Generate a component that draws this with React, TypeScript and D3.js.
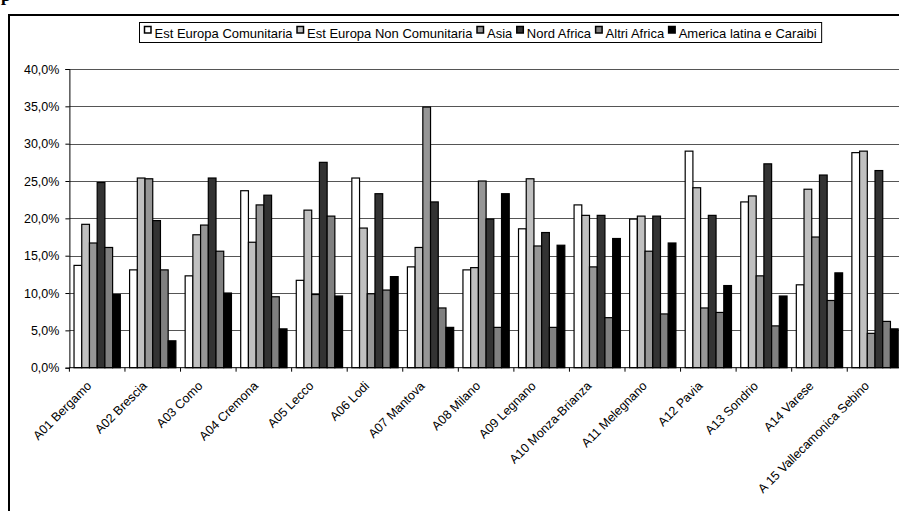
import React, { useEffect, useRef } from "react";
import * as d3 from "d3";

const categories = [
  "A01 Bergamo", "A02 Brescia", "A03 Como", "A04 Cremona", "A05 Lecco", "A06 Lodi",
  "A07 Mantova", "A08 Milano", "A09 Legnano", "A10 Monza-Brianza", "A11 Melegnano",
  "A12 Pavia", "A13 Sondrio", "A14  Varese", "A 15 Vallecamonica Sebino",
];
const seriesNames = [
  "Est Europa Comunitaria", "Est Europa Non Comunitaria", "Asia",
  "Nord Africa", "Altri Africa", "America latina e Caraibi",
];
const estEuropaComunitaria = [13.7, 13.1, 12.3, 23.7, 11.7, 25.4, 13.5, 13.1, 18.6, 21.8, 19.9, 29.0, 22.2, 11.1, 28.8];
const estEuropaNonComunitaria = [19.2, 25.4, 17.8, 16.8, 21.1, 18.7, 16.1, 13.4, 25.3, 20.4, 20.3, 24.1, 23.0, 23.9, 29.0];
const asia = [16.7, 25.3, 19.1, 21.8, 9.8, 9.9, 34.9, 25.0, 16.3, 13.5, 15.6, 8.0, 12.3, 17.5, 4.6];
const nordAfrica = [24.8, 19.7, 25.4, 23.1, 27.5, 23.3, 22.2, 19.9, 18.1, 20.4, 20.3, 20.4, 27.3, 25.8, 26.4];
const altriAfrica = [16.1, 13.1, 15.6, 9.5, 20.3, 10.4, 8.0, 5.4, 5.4, 6.7, 7.2, 7.4, 5.6, 9.0, 6.2];
const americaLatina = [9.8, 3.6, 10.0, 5.2, 9.6, 12.2, 5.4, 23.3, 16.4, 17.3, 16.7, 11.0, 9.6, 12.7, 5.2];
const yTicks = [0, 0.05, 0.1, 0.15, 0.2, 0.25, 0.3, 0.35, 0.4];
const colors = ["#FFFFFF", "#C0C0C0", "#969696", "#333333", "#808080", "#000000"];

const seriesValues = [estEuropaComunitaria, estEuropaNonComunitaria, asia, nordAfrica, altriAfrica, americaLatina];

export default function App() {
  const ref = useRef<SVGSVGElement>(null);
  useEffect(() => {
    const svg = d3.select(ref.current);
    svg.selectAll("*").remove();
    const font = "'Liberation Sans', Arial, sans-serif";

    // partial heading glyph (cut off at top edge, as in the reference)
    svg.append("text").attr("x", 1).attr("y", 1).attr("font-family", "'Liberation Serif', serif")
      .attr("font-size", 18).attr("font-weight", "bold").text("p");

    // outer frame
    svg.append("rect").attr("x", 9).attr("y", 15).attr("width", 1000).attr("height", 1000)
      .attr("fill", "none").attr("stroke", "#000").attr("stroke-width", 2);

    const left = 69.4, right = 902.8, top = 69, bottom = 367.7;
    const y = d3.scaleLinear().domain([0, 0.4]).range([bottom, top]);
    const x0 = d3.scaleBand().domain(categories).range([left, right]).paddingInner(0).paddingOuter(0);
    const step = x0.bandwidth();
    const gap = step * 0.1667;
    const x1 = d3.scaleBand().domain(seriesNames).range([gap / 2, step - gap / 2]);

    const locale = d3.formatLocale({ decimal: ",", thousands: ".", grouping: [3], currency: ["", "€"] });
    const fmt = locale.format(".1%");

    const g = svg.append("g");
    g.selectAll("line.grid").data(yTicks.slice(1)).join("line")
      .attr("x1", left).attr("x2", right)
      .attr("y1", (d) => Math.round(y(d)) + 0.5).attr("y2", (d) => Math.round(y(d)) + 0.5)
      .attr("stroke", "#555").attr("stroke-width", 1);

    categories.forEach((c, i) => {
      seriesNames.forEach((s, j) => {
        const v = seriesValues[j][i] / 100;
        g.append("rect")
          .attr("x", (x0(c) as number) + (x1(s) as number))
          .attr("y", y(v))
          .attr("width", x1.bandwidth())
          .attr("height", bottom - y(v))
          .attr("fill", colors[j])
          .attr("stroke", "#000").attr("stroke-width", 1.2);
      });
    });

    const ya = d3.axisLeft(y).tickValues(yTicks).tickSize(4).tickFormat((d) => fmt(d as number));
    const yg = svg.append("g").attr("transform", `translate(${left},0)`).call(ya);
    yg.select(".domain").attr("stroke", "#000");
    yg.selectAll("text").attr("font-family", font).attr("font-size", 12.5).attr("fill", "#000").attr("x", -10);

    const xg = svg.append("g").attr("transform", `translate(0,${bottom})`);
    xg.append("line").attr("x1", left).attr("x2", right).attr("y1", 0).attr("y2", 0).attr("stroke", "#000");
    const tickX = categories.map((c) => x0(c) as number).concat([right]);
    xg.selectAll("line.t").data(tickX).join("line").attr("class", "t")
      .attr("x1", (d) => d).attr("x2", (d) => d).attr("y1", 0).attr("y2", 4).attr("stroke", "#000");
    xg.selectAll("text").data(categories).join("text")
      .attr("font-family", font).attr("font-size", 12.5).attr("text-anchor", "end")
      .attr("transform", (c) => `translate(${(x0(c) as number) + step / 2 - 5},${19}) rotate(-45)`)
      .text((c) => c);

    const lg = svg.append("g");
    const box = lg.append("rect").attr("fill", "#fff").attr("stroke", "#000").attr("stroke-width", 1);
    let cx = 144.5;
    const ly = 33;
    let end = cx;
    seriesNames.forEach((s, j) => {
      lg.append("rect").attr("x", cx).attr("y", ly - 6.5).attr("width", 6.5).attr("height", 6.5)
        .attr("fill", colors[j]).attr("stroke", "#000").attr("stroke-width", 1.5);
      const t = lg.append("text").attr("x", cx + 10).attr("y", ly + 4.5).attr("font-family", font)
        .attr("font-size", 13).text(s);
      const w = (t.node() as SVGTextElement).getComputedTextLength();
      end = cx + 10 + w;
      cx = end + 4.5;
    });
    box.attr("x", 139.5).attr("y", 22.5).attr("width", end + 5 - 139.5).attr("height", 20);
  }, []);
  return (
    <svg ref={ref} width={899} height={511}
      style={{ position: "absolute", left: 0, top: 0, background: "#fff" }} />
  );
}
